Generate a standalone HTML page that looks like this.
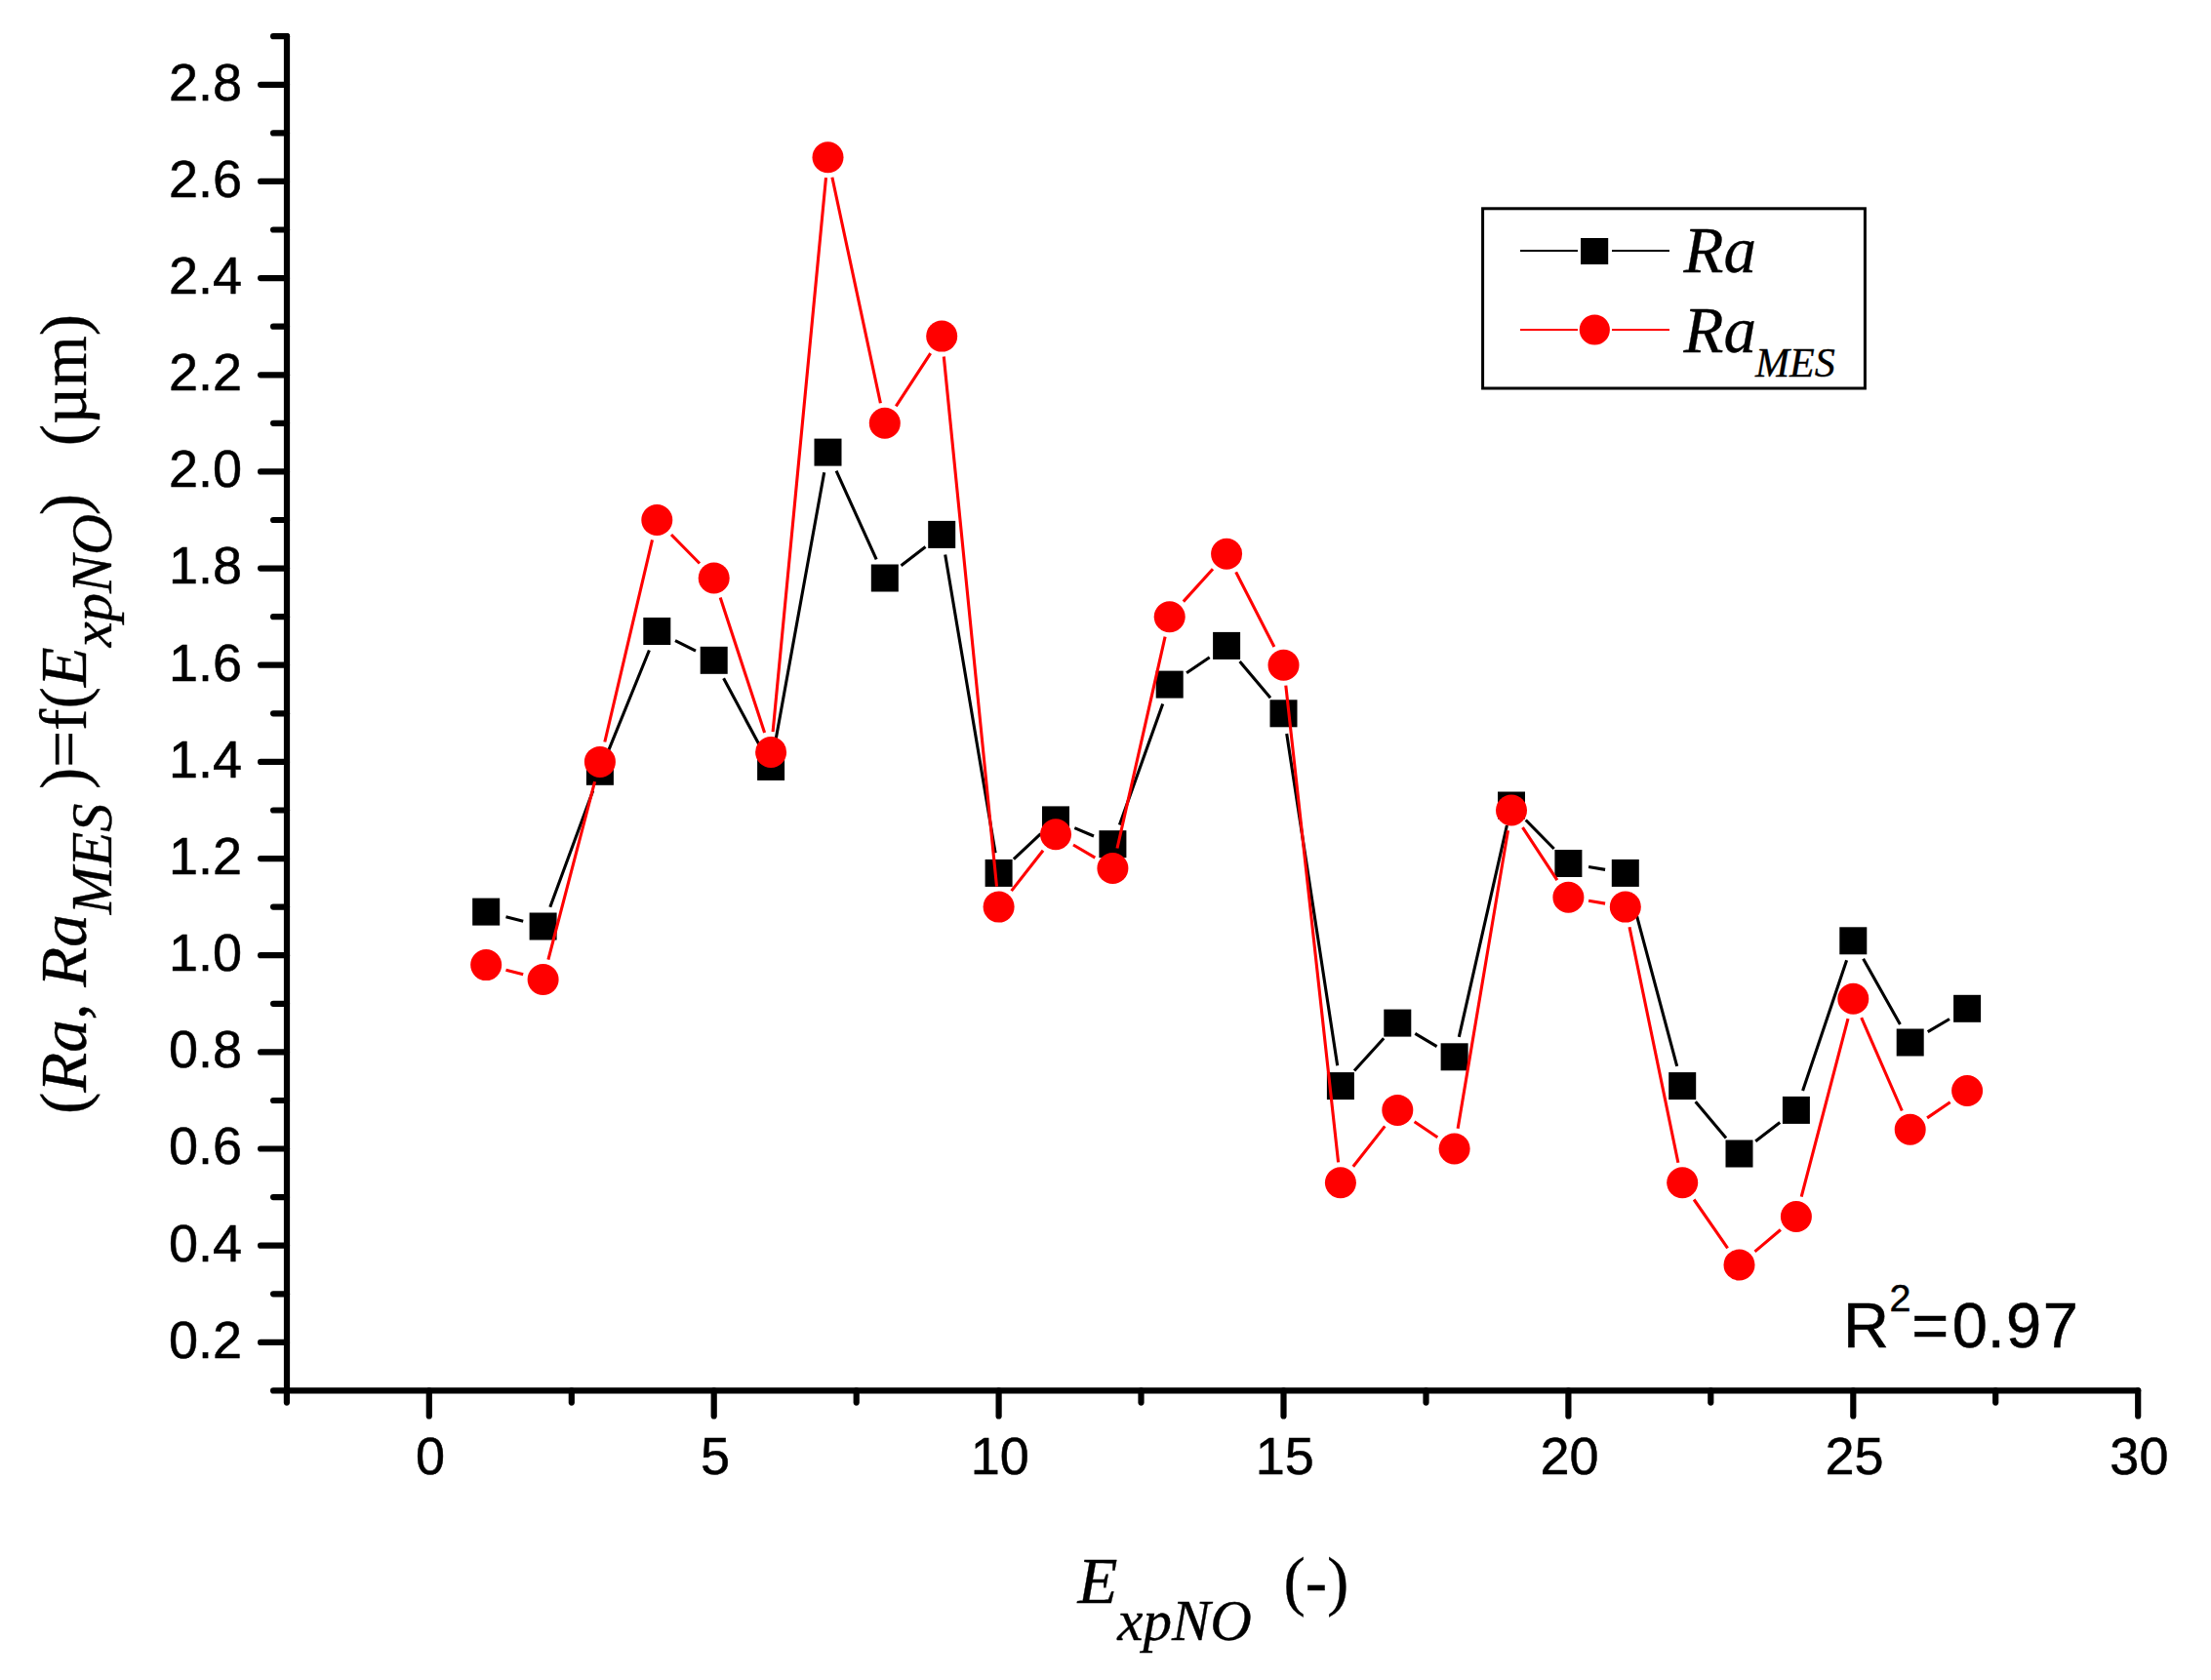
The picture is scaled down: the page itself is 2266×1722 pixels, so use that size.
<!DOCTYPE html>
<html lang="en"><head><meta charset="utf-8"><title>Ra vs ExpNO</title>
<style>html,body{margin:0;padding:0;background:#fff}body{width:2266px;height:1722px;overflow:hidden}svg{display:block}.t{font-family:"Liberation Sans",sans-serif;font-size:54px;fill:#000;stroke:#000;stroke-width:.5px}.s{font-family:"Liberation Serif",serif;fill:#000;stroke:#000;stroke-width:.35px}.i{font-style:italic}</style></head><body>
<svg width="2266" height="1722" viewBox="0 0 2266 1722">
<rect width="2266" height="1722" fill="#fff"/>
<g stroke="#000" stroke-width="6.20" stroke-linecap="round" stroke-linejoin="round" fill="none">
<path d="M294.0 37.2 V1425.3 H2191.2"/>
<path d="M294.0 1425.4 H280.1"/>
<path d="M294.0 1375.9 H267.1"/>
<path d="M294.0 1326.3 H280.1"/>
<path d="M294.0 1276.7 H267.1"/>
<path d="M294.0 1227.1 H280.1"/>
<path d="M294.0 1177.5 H267.1"/>
<path d="M294.0 1128.0 H280.1"/>
<path d="M294.0 1078.4 H267.1"/>
<path d="M294.0 1028.8 H280.1"/>
<path d="M294.0 979.2 H267.1"/>
<path d="M294.0 929.6 H280.1"/>
<path d="M294.0 880.1 H267.1"/>
<path d="M294.0 830.5 H280.1"/>
<path d="M294.0 780.9 H267.1"/>
<path d="M294.0 731.3 H280.1"/>
<path d="M294.0 681.7 H267.1"/>
<path d="M294.0 632.2 H280.1"/>
<path d="M294.0 582.6 H267.1"/>
<path d="M294.0 533.0 H280.1"/>
<path d="M294.0 483.4 H267.1"/>
<path d="M294.0 433.8 H280.1"/>
<path d="M294.0 384.3 H267.1"/>
<path d="M294.0 334.7 H280.1"/>
<path d="M294.0 285.1 H267.1"/>
<path d="M294.0 235.5 H280.1"/>
<path d="M294.0 185.9 H267.1"/>
<path d="M294.0 136.4 H280.1"/>
<path d="M294.0 86.8 H267.1"/>
<path d="M294.0 37.2 H280.1"/>
<path d="M293.9 1425.3 V1437.6"/>
<path d="M439.8 1425.3 V1451.4"/>
<path d="M585.8 1425.3 V1437.6"/>
<path d="M731.7 1425.3 V1451.4"/>
<path d="M877.7 1425.3 V1437.6"/>
<path d="M1023.6 1425.3 V1451.4"/>
<path d="M1169.5 1425.3 V1437.6"/>
<path d="M1315.5 1425.3 V1451.4"/>
<path d="M1461.5 1425.3 V1437.6"/>
<path d="M1607.4 1425.3 V1451.4"/>
<path d="M1753.3 1425.3 V1437.6"/>
<path d="M1899.3 1425.3 V1451.4"/>
<path d="M2045.2 1425.3 V1437.6"/>
<path d="M2191.2 1425.3 V1451.4"/>
</g>
<g class="t" text-anchor="end">
<text x="248" y="1391.7">0.2</text>
<text x="248" y="1292.5">0.4</text>
<text x="248" y="1193.3">0.6</text>
<text x="248" y="1094.2">0.8</text>
<text x="248" y="995.0">1.0</text>
<text x="248" y="895.9">1.2</text>
<text x="248" y="796.7">1.4</text>
<text x="248" y="697.5">1.6</text>
<text x="248" y="598.4">1.8</text>
<text x="248" y="499.2">2.0</text>
<text x="248" y="400.1">2.2</text>
<text x="248" y="300.9">2.4</text>
<text x="248" y="201.7">2.6</text>
<text x="248" y="102.6">2.8</text>
</g>
<g class="t" text-anchor="middle">
<text x="441.0" y="1511.3">0</text>
<text x="732.9" y="1511.3">5</text>
<text x="1024.8" y="1511.3">10</text>
<text x="1316.7" y="1511.3">15</text>
<text x="1608.6" y="1511.3">20</text>
<text x="1900.5" y="1511.3">25</text>
<text x="2192.4" y="1511.3">30</text>
</g>
<g stroke="#000" stroke-width="3.10" stroke-linecap="butt" fill="none">
<path d="M518.5 939.8 L536.2 944.3 M563.8 929.8 L607.7 810.5 M622.8 771.4 L665.4 666.5 M692.0 656.6 L713.0 667.2 M741.6 695.3 L780.2 767.3 M793.8 765.2 L844.7 484.3 M857.1 482.7 L898.2 573.4 M923.5 579.7 L948.5 560.6 M968.7 568.6 L1020.1 874.2 M1038.9 880.6 L1066.6 854.7 M1101.3 848.6 L1121.0 857.0 M1147.4 845.4 L1191.7 721.4 M1216.1 689.8 L1239.7 673.7 M1270.6 678.0 L1302.0 715.2 M1318.7 752.1 L1370.7 1092.3 M1388.0 1097.5 L1418.2 1064.2 M1450.3 1059.4 L1472.6 1072.6 M1495.3 1062.9 L1544.4 846.0 M1563.7 840.5 L1592.7 870.0 M1628.1 888.5 L1645.1 891.4 M1671.2 915.2 L1718.7 1092.8 M1737.7 1129.2 L1769.0 1166.4 M1799.2 1169.7 L1824.2 1150.6 M1847.6 1118.0 L1892.6 984.2 M1909.6 982.7 L1947.4 1050.1 M1975.7 1057.7 L1998.0 1044.5"/>
</g>
<g fill="#000">
<rect x="484.2" y="920.6" width="28" height="28"/>
<rect x="542.6" y="935.5" width="28" height="28"/>
<rect x="600.9" y="776.8" width="28" height="28"/>
<rect x="659.3" y="633.0" width="28" height="28"/>
<rect x="717.7" y="662.8" width="28" height="28"/>
<rect x="776.1" y="771.9" width="28" height="28"/>
<rect x="834.5" y="449.6" width="28" height="28"/>
<rect x="892.8" y="578.5" width="28" height="28"/>
<rect x="951.2" y="533.9" width="28" height="28"/>
<rect x="1009.6" y="880.9" width="28" height="28"/>
<rect x="1068.0" y="826.4" width="28" height="28"/>
<rect x="1126.4" y="851.2" width="28" height="28"/>
<rect x="1184.7" y="687.6" width="28" height="28"/>
<rect x="1243.1" y="647.9" width="28" height="28"/>
<rect x="1301.5" y="717.3" width="28" height="28"/>
<rect x="1359.9" y="1099.1" width="28" height="28"/>
<rect x="1418.3" y="1034.6" width="28" height="28"/>
<rect x="1476.6" y="1069.3" width="28" height="28"/>
<rect x="1535.0" y="811.5" width="28" height="28"/>
<rect x="1593.4" y="871.0" width="28" height="28"/>
<rect x="1651.8" y="880.9" width="28" height="28"/>
<rect x="1710.2" y="1099.1" width="28" height="28"/>
<rect x="1768.5" y="1168.5" width="28" height="28"/>
<rect x="1826.9" y="1123.9" width="28" height="28"/>
<rect x="1885.3" y="950.3" width="28" height="28"/>
<rect x="1943.7" y="1054.5" width="28" height="28"/>
<rect x="2002.1" y="1019.8" width="28" height="28"/>
</g>
<g stroke="#f00" stroke-width="3.10" stroke-linecap="butt" fill="none">
<path d="M518.5 994.3 L536.2 998.8 M561.9 983.7 L609.6 801.2 M619.8 760.5 L668.5 553.4 M688.0 548.0 L717.0 577.5 M738.2 612.5 L783.6 751.0 M792.1 750.1 L846.5 182.1 M852.9 181.7 L902.4 413.3 M918.3 416.3 L953.7 362.2 M967.3 365.5 L1021.5 908.7 M1036.6 913.1 L1069.0 871.8 M1100.0 866.0 L1122.3 879.2 M1145.0 869.5 L1194.1 652.6 M1212.8 616.6 L1243.0 583.3 M1266.7 586.4 L1305.9 663.0 M1317.8 702.6 L1371.6 1191.4 M1386.8 1195.7 L1419.3 1154.4 M1449.6 1149.7 L1473.3 1165.7 M1494.1 1156.8 L1545.5 851.2 M1560.5 848.1 L1595.9 902.2 M1628.1 923.2 L1645.1 926.1 M1670.0 950.2 L1719.9 1191.7 M1736.1 1229.5 L1770.6 1279.3 M1798.5 1282.9 L1824.9 1260.5 M1846.2 1226.6 L1894.0 1044.2 M1907.7 1043.1 L1949.3 1138.5 M1975.1 1145.9 L1998.7 1129.8"/>
</g>
<g fill="#f00">
<circle cx="498.2" cy="989.1" r="16"/>
<circle cx="556.6" cy="1004.0" r="16"/>
<circle cx="614.9" cy="780.9" r="16"/>
<circle cx="673.3" cy="533.0" r="16"/>
<circle cx="731.7" cy="592.5" r="16"/>
<circle cx="790.1" cy="771.0" r="16"/>
<circle cx="848.5" cy="161.2" r="16"/>
<circle cx="906.8" cy="433.8" r="16"/>
<circle cx="965.2" cy="344.6" r="16"/>
<circle cx="1023.6" cy="929.6" r="16"/>
<circle cx="1082.0" cy="855.3" r="16"/>
<circle cx="1140.4" cy="890.0" r="16"/>
<circle cx="1198.7" cy="632.2" r="16"/>
<circle cx="1257.1" cy="567.7" r="16"/>
<circle cx="1315.5" cy="681.7" r="16"/>
<circle cx="1373.9" cy="1212.2" r="16"/>
<circle cx="1432.3" cy="1137.9" r="16"/>
<circle cx="1490.6" cy="1177.5" r="16"/>
<circle cx="1549.0" cy="830.5" r="16"/>
<circle cx="1607.4" cy="919.7" r="16"/>
<circle cx="1665.8" cy="929.6" r="16"/>
<circle cx="1724.2" cy="1212.2" r="16"/>
<circle cx="1782.5" cy="1296.5" r="16"/>
<circle cx="1840.9" cy="1247.0" r="16"/>
<circle cx="1899.3" cy="1023.8" r="16"/>
<circle cx="1957.7" cy="1157.7" r="16"/>
<circle cx="2016.1" cy="1118.0" r="16"/>
</g>
<rect x="1519.6" y="213.8" width="391.8" height="184.2" fill="#fff" stroke="#000" stroke-width="3"/>
<path d="M1558 257 H1617 M1652 257 H1711" stroke="#000" stroke-width="2.2"/>
<rect x="1620" y="244" width="28.2" height="27" fill="#000"/>
<path d="M1558 338 H1617 M1652 338 H1711" stroke="#f00" stroke-width="2.2"/>
<circle cx="1634.3" cy="338" r="15.6" fill="#f00"/>
<text class="s i" x="1725.6" y="279" font-size="67">Ra</text>
<text class="s i" x="1725.6" y="360.5" font-size="67">Ra</text>
<text class="s i" x="1799" y="386" font-size="42">MES</text>
<text class="t" x="1889" y="1380.7" style="font-size:65px">R<tspan dx="0.6" dy="-36.5" style="font-size:39.5px">2</tspan><tspan dx="0.8" dy="36.5">=</tspan><tspan dx="3.4">0.</tspan><tspan dx="1">9</tspan><tspan dx="1.7">7</tspan></text>
<text class="s" x="1104.4" y="1643.2" font-size="67" xml:space="preserve" style="white-space:pre"><tspan class="i">E</tspan><tspan class="i" font-size="59" dy="38">xpNO </tspan><tspan dy="-38" dx="1"> (-)</tspan></text>
<g transform="translate(88,1142) rotate(-90)">
<text class="s" x="0" y="0" font-size="67" xml:space="preserve" style="white-space:pre">(<tspan class="i">Ra, Ra</tspan><tspan class="i" font-size="58.5" dy="26">MES </tspan><tspan dy="-26">)=f(</tspan><tspan class="i">E</tspan><tspan class="i" font-size="58.5" dy="26">xpNO</tspan><tspan dy="-26" dx="-1.5">)</tspan><tspan dx="-1.5">   (µm)</tspan></text>
</g>
</svg></body></html>
